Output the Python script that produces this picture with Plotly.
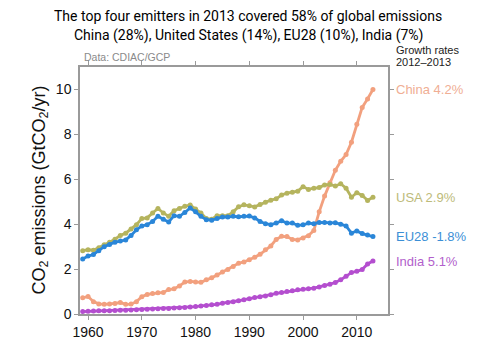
import plotly.graph_objects as go

years = list(range(1959, 2014))

china = [0.72, 0.78, 0.55, 0.45, 0.43, 0.44, 0.47, 0.51, 0.43, 0.44,
         0.55, 0.77, 0.87, 0.91, 0.95, 0.96, 1.09, 1.12, 1.25, 1.42,
         1.45, 1.43, 1.41, 1.52, 1.61, 1.74, 1.87, 1.98, 2.12, 2.26,
         2.32, 2.42, 2.53, 2.66, 2.86, 3.03, 3.32, 3.46, 3.45, 3.32,
         3.30, 3.38, 3.49, 3.72, 4.55, 5.25, 5.85, 6.40, 6.80, 7.10,
         7.65, 8.45, 9.20, 9.58, 10.0]

usa = [2.82, 2.86, 2.84, 2.95, 3.08, 3.20, 3.33, 3.50, 3.60, 3.78,
       3.98, 4.25, 4.28, 4.50, 4.70, 4.50, 4.35, 4.60, 4.70, 4.80,
       4.85, 4.68, 4.50, 4.25, 4.22, 4.38, 4.38, 4.38, 4.55, 4.78,
       4.86, 4.82, 4.77, 4.88, 4.98, 5.07, 5.13, 5.30, 5.38, 5.42,
       5.47, 5.67, 5.55, 5.60, 5.63, 5.75, 5.77, 5.70, 5.80, 5.60,
       5.20, 5.40, 5.28, 5.06, 5.20]

eu28 = [2.45, 2.58, 2.65, 2.82, 3.00, 3.10, 3.20, 3.25, 3.30, 3.50,
        3.75, 3.92, 3.98, 4.12, 4.35, 4.22, 4.10, 4.38, 4.35, 4.52,
        4.72, 4.55, 4.35, 4.20, 4.18, 4.25, 4.32, 4.32, 4.35, 4.33,
        4.35, 4.36, 4.28, 4.12, 4.02, 3.98, 4.05, 4.15, 4.05, 4.05,
        3.95, 3.97, 4.05, 4.02, 4.08, 4.08, 4.05, 4.06, 4.00, 3.92,
        3.60, 3.70, 3.58, 3.52, 3.45]

india = [0.11, 0.12, 0.13, 0.14, 0.15, 0.15, 0.16, 0.17, 0.17, 0.18,
         0.19, 0.20, 0.21, 0.22, 0.23, 0.24, 0.25, 0.27, 0.28, 0.29,
         0.31, 0.33, 0.36, 0.38, 0.41, 0.43, 0.48, 0.51, 0.55, 0.59,
         0.64, 0.68, 0.73, 0.77, 0.80, 0.86, 0.92, 0.96, 1.00, 1.03,
         1.08, 1.10, 1.13, 1.15, 1.20, 1.27, 1.33, 1.40, 1.52, 1.68,
         1.85, 1.90, 1.98, 2.23, 2.36]

series_names = ["China", "USA", "EU28", "India"]
series_values = [china, usa, eu28, india]
growth_labels = ["China 4.2%", "USA 2.9%", "EU28 -1.8%", "India 5.1%"]
label_values = [10.0, 5.2, 3.45, 2.35]
line_colors = ["#f2a07e", "#b5b45e", "#2a86d8", "#b44ecf"]
label_colors = ["#f0ae94", "#bdbb7a", "#3b8fd6", "#b25fcc"]

title_lines = ["The top four emitters in 2013 covered 58% of global emissions",
               "China (28%), United States (14%), EU28 (10%), India (7%)"]

fig = go.Figure()
for name, vals, col in zip(series_names, series_values, line_colors):
    fig.add_trace(go.Scatter(
        x=years, y=vals, name=name, mode="lines+markers",
        line=dict(color=col, width=2.8),
        marker=dict(color=col, size=5),
        showlegend=False, cliponaxis=False))

for txt, v, col in zip(growth_labels, label_values, label_colors):
    fig.add_annotation(x=1.02, xref="paper", y=v, yref="y", text=txt,
                       showarrow=False, xanchor="left", yanchor="middle",
                       font=dict(family="Liberation Sans", size=13, color=col))

fig.add_annotation(x=1.02, xref="paper", y=(323 - 49) / 256, yref="paper",
                   text="Growth rates", showarrow=False, xanchor="left",
                   yanchor="middle",
                   font=dict(family="Liberation Sans", size=11, color="#222"))
fig.add_annotation(x=1.02, xref="paper", y=(323 - 62) / 256, yref="paper",
                   text="2012–2013", showarrow=False, xanchor="left",
                   yanchor="middle",
                   font=dict(family="Liberation Sans", size=11, color="#222"))
fig.add_annotation(x=0.005, xref="paper", y=(323 - 57) / 256, yref="paper",
                   text="Data: CDIAC/GCP", showarrow=False, xanchor="left",
                   yanchor="middle",
                   font=dict(family="Liberation Sans", size=10.5, color="#8a8a8a"))

for i, (line, ypx) in enumerate(zip(title_lines, [14, 34])):
    fig.add_annotation(x=(248 - 80) / 308, xref="paper", y=(323 - ypx) / 256,
                       yref="paper", text=line, showarrow=False,
                       xanchor="center", yanchor="middle",
                       font=dict(family="Roboto", size=14, color="#000"))

fig.add_annotation(x=(40 - 80) / 308, xref="paper", y=0.5, yref="paper",
                   text="CO<sub>2</sub> emissions (GtCO<sub>2</sub>/yr)",
                   textangle=-90, showarrow=False, xanchor="center",
                   yanchor="middle",
                   font=dict(family="Liberation Sans", size=18, color="#111"))

axis_common = dict(showline=True, linecolor="#9a9a9a", linewidth=1.5,
                   mirror="ticks", ticks="outside", ticklen=4,
                   tickcolor="#9a9a9a", tickwidth=1, showgrid=False,
                   zeroline=False,
                   tickfont=dict(family="Liberation Sans", size=14, color="#111"))

fig.update_xaxes(range=[1958.5, 2015.8], tickvals=[1960, 1970, 1980, 1990, 2000, 2010],
                 **axis_common)
fig.update_yaxes(range=[0, 11], tickvals=[0, 2, 4, 6, 8, 10], **axis_common)

fig.update_layout(width=479, height=352, margin=dict(l=80, r=91, t=67, b=29),
                  paper_bgcolor="white", plot_bgcolor="white")

fig.write_html("out.html")
